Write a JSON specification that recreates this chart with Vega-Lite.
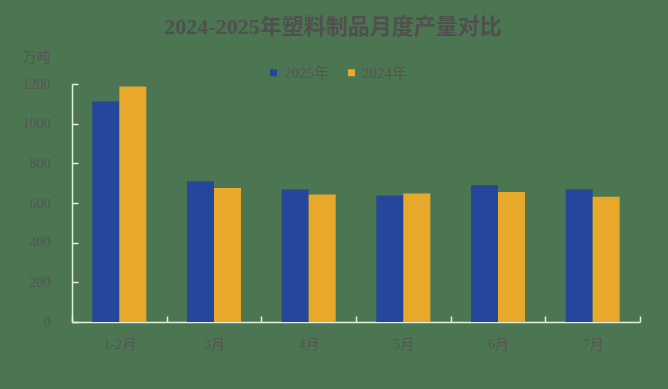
{
  "$schema": "https://vega.github.io/schema/vega-lite/v6.json",
  "width": 568,
  "height": 238,
  "autosize": {"type": "none"},
  "padding": {"left": 72, "top": 84, "right": 28, "bottom": 67},
  "background": "#4b7651",
  "config": {
    "view": {"stroke": null},
    "font": "Liberation Serif, Noto Sans CJK SC"
  },
  "title": {
    "text": "2024-2025年塑料制品月度产量对比",
    "font": "Liberation Serif, Noto Sans CJK SC",
    "fontSize": 22,
    "fontWeight": "bold",
    "color": "#505050",
    "anchor": "middle",
    "dx": -23,
    "offset": 11
  },
  "data": {
    "values": [
      {"month": "1-2月", "year": "2025年", "value": 1112},
      {"month": "1-2月", "year": "2024年", "value": 1188},
      {"month": "3月", "year": "2025年", "value": 710},
      {"month": "3月", "year": "2024年", "value": 676},
      {"month": "4月", "year": "2025年", "value": 668},
      {"month": "4月", "year": "2024年", "value": 643},
      {"month": "5月", "year": "2025年", "value": 638},
      {"month": "5月", "year": "2024年", "value": 648},
      {"month": "6月", "year": "2025年", "value": 690},
      {"month": "6月", "year": "2024年", "value": 656},
      {"month": "7月", "year": "2025年", "value": 669},
      {"month": "7月", "year": "2024年", "value": 631}
    ]
  },
  "mark": {"type": "bar"},
  "encoding": {
    "x": {
      "field": "month",
      "type": "nominal",
      "sort": ["1-2月", "3月", "4月", "5月", "6月", "7月"],
      "scale": {"paddingInner": 0, "paddingOuter": 0},
      "axis": {
        "title": null,
        "labelAngle": 0,
        "tickBand": "extent",
        "domainColor": "#e2f0e2",
        "domainWidth": 1.5,
        "tickColor": "#e2f0e2",
        "tickWidth": 1.5,
        "tickSize": -6,
        "labelPadding": 21,
        "labelFontSize": 14,
        "labelColor": "#555555",
        "labelFont": "Liberation Serif, Noto Sans CJK SC"
      }
    },
    "xOffset": {
      "field": "year",
      "type": "nominal",
      "sort": ["2025年", "2024年"],
      "scale": {"paddingInner": 0, "paddingOuter": 0.753}
    },
    "y": {
      "field": "value",
      "type": "quantitative",
      "scale": {"domain": [0, 1200]},
      "axis": {
        "title": "万吨",
        "titleAngle": 0,
        "titleX": -22,
        "titleY": -27,
        "titleAlign": "right",
        "titleBaseline": "middle",
        "titleFontSize": 14,
        "titleFontWeight": "normal",
        "titleColor": "#555555",
        "titleFont": "Liberation Serif, Noto Sans CJK SC",
        "values": [0, 200, 400, 600, 800, 1000, 1200],
        "format": "d",
        "grid": false,
        "domainColor": "#e2f0e2",
        "domainWidth": 1.5,
        "tickColor": "#e2f0e2",
        "tickWidth": 1.5,
        "tickSize": -6,
        "labelPadding": 28,
        "labelFontSize": 14,
        "labelColor": "#555555",
        "labelFont": "Liberation Serif, Noto Sans CJK SC"
      }
    },
    "color": {
      "field": "year",
      "type": "nominal",
      "sort": ["2025年", "2024年"],
      "scale": {"domain": ["2025年", "2024年"], "range": ["#24479b", "#e8a82a"]},
      "legend": {
        "title": null,
        "orient": "none",
        "direction": "horizontal",
        "legendX": 194,
        "legendY": -19,
        "padding": 0,
        "symbolType": "square",
        "symbolSize": 49,
        "symbolStrokeWidth": 0,
        "labelOffset": 3,
        "columnPadding": 14,
        "labelFontSize": 15,
        "labelColor": "#555555",
        "labelFont": "Liberation Serif, Noto Sans CJK SC"
      }
    }
  }
}
